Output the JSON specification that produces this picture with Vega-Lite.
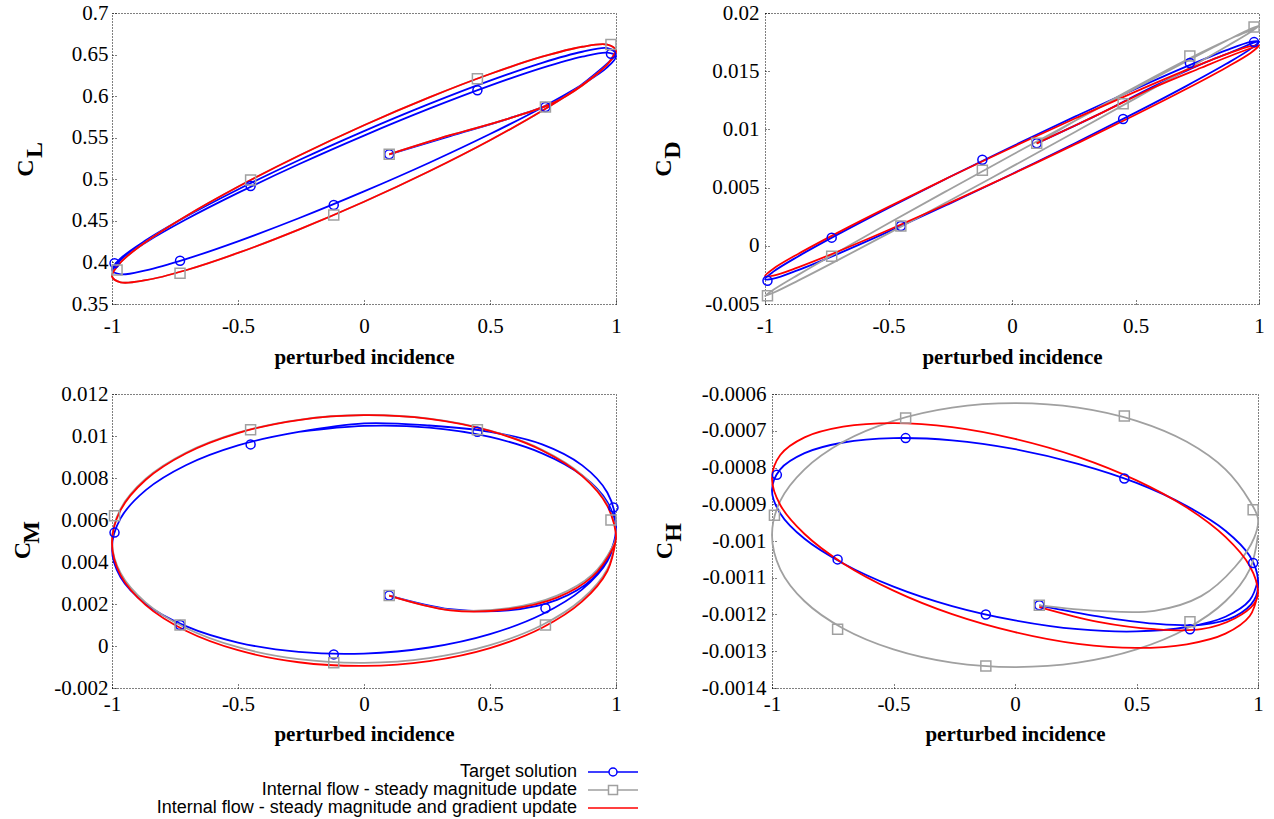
{
  "$schema": "https://vega.github.io/schema/vega-lite/v6.json",
  "padding": {"left": 10, "top": 1, "right": 0, "bottom": 0},
  "config": {
    "font": "Liberation Serif",
    "view": {"stroke": "#000000", "strokeDash": [1, 2], "strokeWidth": 1},
    "style": {"guide-label": {"font": "Liberation Serif", "fontSize": 21, "fill": "#000000"}, "guide-title": {"font": "Liberation Serif", "fontWeight": "bold", "fill": "#000000"}},
    "axis": {
      "domain": false, "grid": false,
      "labelFont": "Liberation Serif", "labelFontSize": 21, "labelColor": "#000000",
      "labelFlush": false, "labelOverlap": false,
      "ticks": true, "tickColor": "#000000", "tickDash": [1, 2], "tickSize": -6, "tickWidth": 1,
      "titleFont": "Liberation Serif", "titleFontWeight": "bold", "titleColor": "#000000"
    }
  },
  "datasets": {
    "c": [
      {"p":"L","s":"T","i":0,"x":0.1,"y":0.53},{"p":"L","s":"T","i":1,"x":0.342,"y":0.552},{"p":"L","s":"T","i":2,"x":0.574,"y":0.573},{"p":"L","s":"T","i":3,"x":0.766,"y":0.594},{"p":"L","s":"T","i":4,"x":0.906,"y":0.624},{"p":"L","s":"T","i":5,"x":0.985,"y":0.645},
      {"p":"L","s":"T","i":6,"x":1,"y":0.651},{"p":"L","s":"T","i":7,"x":0.966,"y":0.6578},{"p":"L","s":"T","i":8,"x":0.866,"y":0.6534},{"p":"L","s":"T","i":9,"x":0.707,"y":0.6401},{"p":"L","s":"T","i":10,"x":0.5,"y":0.6187},{"p":"L","s":"T","i":11,"x":0.259,"y":0.5907},{"p":"L","s":"T","i":12,"x":0,"y":0.558},{"p":"L","s":"T","i":13,"x":-0.259,"y":0.5229},{"p":"L","s":"T","i":14,"x":-0.5,"y":0.4877},{"p":"L","s":"T","i":15,"x":-0.707,"y":0.4549},{"p":"L","s":"T","i":16,"x":-0.866,"y":0.4266},{"p":"L","s":"T","i":17,"x":-0.966,"y":0.4048},{"p":"L","s":"T","i":18,"x":-1,"y":0.391},
      {"p":"L","s":"T","i":19,"x":-0.966,"y":0.3857},{"p":"L","s":"T","i":20,"x":-0.866,"y":0.3905},{"p":"L","s":"T","i":21,"x":-0.707,"y":0.404},{"p":"L","s":"T","i":22,"x":-0.5,"y":0.4254},{"p":"L","s":"T","i":23,"x":-0.259,"y":0.4531},{"p":"L","s":"T","i":24,"x":0,"y":0.4854},{"p":"L","s":"T","i":25,"x":0.259,"y":0.5199},{"p":"L","s":"T","i":26,"x":0.5,"y":0.5544},{"p":"L","s":"T","i":27,"x":0.707,"y":0.5864},{"p":"L","s":"T","i":28,"x":0.866,"y":0.6139},{"p":"L","s":"T","i":29,"x":0.966,"y":0.6349},{"p":"L","s":"T","i":30,"x":1,"y":0.648},
      {"p":"L","s":"T","i":31,"x":0.966,"y":0.6523},{"p":"L","s":"T","i":32,"x":0.866,"y":0.6475},{"p":"L","s":"T","i":33,"x":0.707,"y":0.634},{"p":"L","s":"T","i":34,"x":0.5,"y":0.6126},{"p":"L","s":"T","i":35,"x":0.259,"y":0.5849},{"p":"L","s":"T","i":36,"x":0,"y":0.5526},{"p":"L","s":"T","i":37,"x":-0.259,"y":0.5181},{"p":"L","s":"T","i":38,"x":-0.5,"y":0.4836},{"p":"L","s":"T","i":39,"x":-0.707,"y":0.4516},{"p":"L","s":"T","i":40,"x":-0.866,"y":0.4241},{"p":"L","s":"T","i":41,"x":-0.966,"y":0.4031},{"p":"L","s":"T","i":42,"x":-1,"y":0.39},

      {"p":"L","s":"G","i":0,"x":0.1,"y":0.53},{"p":"L","s":"G","i":1,"x":0.342,"y":0.553},{"p":"L","s":"G","i":2,"x":0.574,"y":0.573},{"p":"L","s":"G","i":3,"x":0.766,"y":0.594},{"p":"L","s":"G","i":4,"x":0.906,"y":0.622},{"p":"L","s":"G","i":5,"x":0.985,"y":0.645},
      {"p":"L","s":"G","i":6,"x":1,"y":0.6546},{"p":"L","s":"G","i":7,"x":0.966,"y":0.6619},{"p":"L","s":"G","i":8,"x":0.866,"y":0.6594},{"p":"L","s":"G","i":9,"x":0.707,"y":0.6474},{"p":"L","s":"G","i":10,"x":0.5,"y":0.6266},{"p":"L","s":"G","i":11,"x":0.259,"y":0.5985},{"p":"L","s":"G","i":12,"x":0,"y":0.565},{"p":"L","s":"G","i":13,"x":-0.259,"y":0.5283},{"p":"L","s":"G","i":14,"x":-0.5,"y":0.491},{"p":"L","s":"G","i":15,"x":-0.707,"y":0.4556},{"p":"L","s":"G","i":16,"x":-0.866,"y":0.4246},{"p":"L","s":"G","i":17,"x":-0.966,"y":0.3999},{"p":"L","s":"G","i":18,"x":-1,"y":0.3834},
      {"p":"L","s":"G","i":19,"x":-0.966,"y":0.3761},{"p":"L","s":"G","i":20,"x":-0.866,"y":0.3786},{"p":"L","s":"G","i":21,"x":-0.707,"y":0.3906},{"p":"L","s":"G","i":22,"x":-0.5,"y":0.4114},{"p":"L","s":"G","i":23,"x":-0.259,"y":0.4395},{"p":"L","s":"G","i":24,"x":0,"y":0.473},{"p":"L","s":"G","i":25,"x":0.259,"y":0.5097},{"p":"L","s":"G","i":26,"x":0.5,"y":0.547},{"p":"L","s":"G","i":27,"x":0.707,"y":0.5824},{"p":"L","s":"G","i":28,"x":0.866,"y":0.6134},{"p":"L","s":"G","i":29,"x":0.966,"y":0.6381},{"p":"L","s":"G","i":30,"x":1,"y":0.6546},

      {"p":"L","s":"R","i":0,"x":0.1,"y":0.53},{"p":"L","s":"R","i":1,"x":0.342,"y":0.553},{"p":"L","s":"R","i":2,"x":0.574,"y":0.573},{"p":"L","s":"R","i":3,"x":0.766,"y":0.594},{"p":"L","s":"R","i":4,"x":0.906,"y":0.622},{"p":"L","s":"R","i":5,"x":0.985,"y":0.645},
      {"p":"L","s":"R","i":6,"x":1,"y":0.6546},{"p":"L","s":"R","i":7,"x":0.966,"y":0.6619},{"p":"L","s":"R","i":8,"x":0.866,"y":0.6594},{"p":"L","s":"R","i":9,"x":0.707,"y":0.6474},{"p":"L","s":"R","i":10,"x":0.5,"y":0.6266},{"p":"L","s":"R","i":11,"x":0.259,"y":0.5985},{"p":"L","s":"R","i":12,"x":0,"y":0.565},{"p":"L","s":"R","i":13,"x":-0.259,"y":0.5283},{"p":"L","s":"R","i":14,"x":-0.5,"y":0.491},{"p":"L","s":"R","i":15,"x":-0.707,"y":0.4556},{"p":"L","s":"R","i":16,"x":-0.866,"y":0.4246},{"p":"L","s":"R","i":17,"x":-0.966,"y":0.3999},{"p":"L","s":"R","i":18,"x":-1,"y":0.3834},
      {"p":"L","s":"R","i":19,"x":-0.966,"y":0.3761},{"p":"L","s":"R","i":20,"x":-0.866,"y":0.3786},{"p":"L","s":"R","i":21,"x":-0.707,"y":0.3906},{"p":"L","s":"R","i":22,"x":-0.5,"y":0.4114},{"p":"L","s":"R","i":23,"x":-0.259,"y":0.4395},{"p":"L","s":"R","i":24,"x":0,"y":0.473},{"p":"L","s":"R","i":25,"x":0.259,"y":0.5097},{"p":"L","s":"R","i":26,"x":0.5,"y":0.547},{"p":"L","s":"R","i":27,"x":0.707,"y":0.5824},{"p":"L","s":"R","i":28,"x":0.866,"y":0.6134},{"p":"L","s":"R","i":29,"x":0.966,"y":0.6381},{"p":"L","s":"R","i":30,"x":1,"y":0.6546},

      {"p":"D","s":"T","i":0,"x":0.1,"y":0.0088},{"p":"D","s":"T","i":1,"x":0.342,"y":0.0112},{"p":"D","s":"T","i":2,"x":0.574,"y":0.0137},{"p":"D","s":"T","i":3,"x":0.766,"y":0.0156},{"p":"D","s":"T","i":4,"x":0.906,"y":0.0168},{"p":"D","s":"T","i":5,"x":0.985,"y":0.0175},
      {"p":"D","s":"T","i":6,"x":1,"y":0.01757},{"p":"D","s":"T","i":7,"x":0.966,"y":0.016917},{"p":"D","s":"T","i":8,"x":0.866,"y":0.015611},{"p":"D","s":"T","i":9,"x":0.707,"y":0.013742},{"p":"D","s":"T","i":10,"x":0.5,"y":0.011438},{"p":"D","s":"T","i":11,"x":0.259,"y":0.008857},{"p":"D","s":"T","i":12,"x":0,"y":0.00617},{"p":"D","s":"T","i":13,"x":-0.259,"y":0.003563},{"p":"D","s":"T","i":14,"x":-0.5,"y":0.001218},{"p":"D","s":"T","i":15,"x":-0.707,"y":-0.00071},{"p":"D","s":"T","i":16,"x":-0.866,"y":-0.002091},{"p":"D","s":"T","i":17,"x":-0.966,"y":-0.002829},{"p":"D","s":"T","i":18,"x":-1,"y":-0.00287},
      {"p":"D","s":"T","i":19,"x":-0.966,"y":-0.002217},{"p":"D","s":"T","i":20,"x":-0.866,"y":-0.000911},{"p":"D","s":"T","i":21,"x":-0.707,"y":0.000958},{"p":"D","s":"T","i":22,"x":-0.5,"y":0.003262},{"p":"D","s":"T","i":23,"x":-0.259,"y":0.005843},{"p":"D","s":"T","i":24,"x":0,"y":0.00853},{"p":"D","s":"T","i":25,"x":0.259,"y":0.011137},{"p":"D","s":"T","i":26,"x":0.5,"y":0.013482},{"p":"D","s":"T","i":27,"x":0.707,"y":0.01541},{"p":"D","s":"T","i":28,"x":0.866,"y":0.016791},{"p":"D","s":"T","i":29,"x":0.966,"y":0.017529},{"p":"D","s":"T","i":30,"x":1,"y":0.01757},

      {"p":"D","s":"G","i":0,"x":0.1,"y":0.0088},{"p":"D","s":"G","i":1,"x":0.342,"y":0.0118},{"p":"D","s":"G","i":2,"x":0.574,"y":0.0145},{"p":"D","s":"G","i":3,"x":0.766,"y":0.0166},{"p":"D","s":"G","i":4,"x":0.906,"y":0.018},{"p":"D","s":"G","i":5,"x":0.985,"y":0.0187},
      {"p":"D","s":"G","i":6,"x":1,"y":0.0189},{"p":"D","s":"G","i":7,"x":0.966,"y":0.018376},{"p":"D","s":"G","i":8,"x":0.866,"y":0.017096},{"p":"D","s":"G","i":9,"x":0.707,"y":0.015147},{"p":"D","s":"G","i":10,"x":0.5,"y":0.012667},{"p":"D","s":"G","i":11,"x":0.259,"y":0.009821},{"p":"D","s":"G","i":12,"x":0,"y":0.0068},{"p":"D","s":"G","i":13,"x":-0.259,"y":0.003813},{"p":"D","s":"G","i":14,"x":-0.5,"y":0.001067},{"p":"D","s":"G","i":15,"x":-0.707,"y":-0.001255},{"p":"D","s":"G","i":16,"x":-0.866,"y":-0.002996},{"p":"D","s":"G","i":17,"x":-0.966,"y":-0.004036},{"p":"D","s":"G","i":18,"x":-1,"y":-0.0043},
      {"p":"D","s":"G","i":19,"x":-0.966,"y":-0.003776},{"p":"D","s":"G","i":20,"x":-0.866,"y":-0.002496},{"p":"D","s":"G","i":21,"x":-0.707,"y":-0.000547},{"p":"D","s":"G","i":22,"x":-0.5,"y":0.001933},{"p":"D","s":"G","i":23,"x":-0.259,"y":0.004779},{"p":"D","s":"G","i":24,"x":0,"y":0.0078},{"p":"D","s":"G","i":25,"x":0.259,"y":0.010787},{"p":"D","s":"G","i":26,"x":0.5,"y":0.013533},{"p":"D","s":"G","i":27,"x":0.707,"y":0.015855},{"p":"D","s":"G","i":28,"x":0.866,"y":0.017596},{"p":"D","s":"G","i":29,"x":0.966,"y":0.018636},{"p":"D","s":"G","i":30,"x":1,"y":0.0189},

      {"p":"D","s":"R","i":0,"x":0.1,"y":0.0088},{"p":"D","s":"R","i":1,"x":0.342,"y":0.0112},{"p":"D","s":"R","i":2,"x":0.574,"y":0.0136},{"p":"D","s":"R","i":3,"x":0.766,"y":0.0153},{"p":"D","s":"R","i":4,"x":0.906,"y":0.0165},{"p":"D","s":"R","i":5,"x":0.985,"y":0.0171},
      {"p":"D","s":"R","i":6,"x":1,"y":0.0172},{"p":"D","s":"R","i":7,"x":0.966,"y":0.016565},{"p":"D","s":"R","i":8,"x":0.866,"y":0.015298},{"p":"D","s":"R","i":9,"x":0.707,"y":0.013486},{"p":"D","s":"R","i":10,"x":0.5,"y":0.011254},{"p":"D","s":"R","i":11,"x":0.259,"y":0.008753},{"p":"D","s":"R","i":12,"x":0,"y":0.00615},{"p":"D","s":"R","i":13,"x":-0.259,"y":0.003625},{"p":"D","s":"R","i":14,"x":-0.5,"y":0.001354},{"p":"D","s":"R","i":15,"x":-0.707,"y":-0.000512},{"p":"D","s":"R","i":16,"x":-0.866,"y":-0.001848},{"p":"D","s":"R","i":17,"x":-0.966,"y":-0.002561},{"p":"D","s":"R","i":18,"x":-1,"y":-0.0026},
      {"p":"D","s":"R","i":19,"x":-0.966,"y":-0.001965},{"p":"D","s":"R","i":20,"x":-0.866,"y":-0.000698},{"p":"D","s":"R","i":21,"x":-0.707,"y":0.001114},{"p":"D","s":"R","i":22,"x":-0.5,"y":0.003346},{"p":"D","s":"R","i":23,"x":-0.259,"y":0.005847},{"p":"D","s":"R","i":24,"x":0,"y":0.00845},{"p":"D","s":"R","i":25,"x":0.259,"y":0.010975},{"p":"D","s":"R","i":26,"x":0.5,"y":0.013246},{"p":"D","s":"R","i":27,"x":0.707,"y":0.015112},{"p":"D","s":"R","i":28,"x":0.866,"y":0.016448},{"p":"D","s":"R","i":29,"x":0.966,"y":0.017161},{"p":"D","s":"R","i":30,"x":1,"y":0.0172},

      {"p":"M","s":"T","i":0,"x":0.1,"y":0.0024},{"p":"M","s":"T","i":1,"x":0.342,"y":0.00175},{"p":"M","s":"T","i":2,"x":0.574,"y":0.0017},{"p":"M","s":"T","i":3,"x":0.766,"y":0.0022},{"p":"M","s":"T","i":4,"x":0.906,"y":0.0032},{"p":"M","s":"T","i":5,"x":0.985,"y":0.0047},
      {"p":"M","s":"T","i":6,"x":1,"y":0.0058},{"p":"M","s":"T","i":7,"x":0.966,"y":0.0073},{"p":"M","s":"T","i":8,"x":0.866,"y":0.0086},{"p":"M","s":"T","i":9,"x":0.707,"y":0.0096},{"p":"M","s":"T","i":10,"x":0.5,"y":0.0102},{"p":"M","s":"T","i":11,"x":0.259,"y":0.0105},{"p":"M","s":"T","i":12,"x":0,"y":0.0106},
      {"p":"M","s":"T","i":13,"x":-0.259,"y":0.010192},{"p":"M","s":"T","i":14,"x":-0.5,"y":0.009554},{"p":"M","s":"T","i":15,"x":-0.707,"y":0.008609},{"p":"M","s":"T","i":16,"x":-0.866,"y":0.007424},{"p":"M","s":"T","i":17,"x":-0.966,"y":0.006078},{"p":"M","s":"T","i":18,"x":-1,"y":0.00466},{"p":"M","s":"T","i":19,"x":-0.966,"y":0.00327},{"p":"M","s":"T","i":20,"x":-0.866,"y":0.002004},{"p":"M","s":"T","i":21,"x":-0.707,"y":0.000945},{"p":"M","s":"T","i":22,"x":-0.5,"y":0.000166},{"p":"M","s":"T","i":23,"x":-0.259,"y":-0.00028},{"p":"M","s":"T","i":24,"x":0,"y":-0.00036},{"p":"M","s":"T","i":25,"x":0.259,"y":-0.000072},{"p":"M","s":"T","i":26,"x":0.5,"y":0.000566},{"p":"M","s":"T","i":27,"x":0.707,"y":0.001511},{"p":"M","s":"T","i":28,"x":0.866,"y":0.002696},{"p":"M","s":"T","i":29,"x":0.966,"y":0.004042},{"p":"M","s":"T","i":30,"x":1,"y":0.00546},
      {"p":"M","s":"T","i":31,"x":0.966,"y":0.00685},{"p":"M","s":"T","i":32,"x":0.866,"y":0.008116},{"p":"M","s":"T","i":33,"x":0.707,"y":0.009175},{"p":"M","s":"T","i":34,"x":0.5,"y":0.009954},{"p":"M","s":"T","i":35,"x":0.259,"y":0.0104},{"p":"M","s":"T","i":36,"x":0,"y":0.01048},{"p":"M","s":"T","i":37,"x":-0.259,"y":0.010192},

      {"p":"M","s":"G","i":0,"x":0.1,"y":0.0024},{"p":"M","s":"G","i":1,"x":0.342,"y":0.00172},{"p":"M","s":"G","i":2,"x":0.574,"y":0.0018},{"p":"M","s":"G","i":3,"x":0.766,"y":0.0024},{"p":"M","s":"G","i":4,"x":0.906,"y":0.0034},{"p":"M","s":"G","i":5,"x":0.985,"y":0.0047},
      {"p":"M","s":"G","i":6,"x":1,"y":0.0052},{"p":"M","s":"G","i":7,"x":0.966,"y":0.006725},{"p":"M","s":"G","i":8,"x":0.866,"y":0.008137},{"p":"M","s":"G","i":9,"x":0.707,"y":0.009342},{"p":"M","s":"G","i":10,"x":0.5,"y":0.010259},{"p":"M","s":"G","i":11,"x":0.259,"y":0.010825},{"p":"M","s":"G","i":12,"x":0,"y":0.011},{"p":"M","s":"G","i":13,"x":-0.259,"y":0.010773},{"p":"M","s":"G","i":14,"x":-0.5,"y":0.010159},{"p":"M","s":"G","i":15,"x":-0.707,"y":0.0092},{"p":"M","s":"G","i":16,"x":-0.866,"y":0.007963},{"p":"M","s":"G","i":17,"x":-0.966,"y":0.006531},{"p":"M","s":"G","i":18,"x":-1,"y":0.005},
      {"p":"M","s":"G","i":19,"x":-0.966,"y":0.003475},{"p":"M","s":"G","i":20,"x":-0.866,"y":0.002063},{"p":"M","s":"G","i":21,"x":-0.707,"y":0.000858},{"p":"M","s":"G","i":22,"x":-0.5,"y":-0.000059},{"p":"M","s":"G","i":23,"x":-0.259,"y":-0.000625},{"p":"M","s":"G","i":24,"x":0,"y":-0.0008},{"p":"M","s":"G","i":25,"x":0.259,"y":-0.000573},{"p":"M","s":"G","i":26,"x":0.5,"y":0.000041},{"p":"M","s":"G","i":27,"x":0.707,"y":0.001},{"p":"M","s":"G","i":28,"x":0.866,"y":0.002237},{"p":"M","s":"G","i":29,"x":0.966,"y":0.003669},{"p":"M","s":"G","i":30,"x":1,"y":0.0052},

      {"p":"M","s":"R","i":0,"x":0.1,"y":0.0024},{"p":"M","s":"R","i":1,"x":0.342,"y":0.0017},{"p":"M","s":"R","i":2,"x":0.574,"y":0.00175},{"p":"M","s":"R","i":3,"x":0.766,"y":0.0023},{"p":"M","s":"R","i":4,"x":0.906,"y":0.0033},{"p":"M","s":"R","i":5,"x":0.985,"y":0.0046},
      {"p":"M","s":"R","i":6,"x":1,"y":0.00512},{"p":"M","s":"R","i":7,"x":0.966,"y":0.006663},{"p":"M","s":"R","i":8,"x":0.866,"y":0.008092},{"p":"M","s":"R","i":9,"x":0.707,"y":0.009312},{"p":"M","s":"R","i":10,"x":0.5,"y":0.01024},{"p":"M","s":"R","i":11,"x":0.259,"y":0.010813},{"p":"M","s":"R","i":12,"x":0,"y":0.01099},{"p":"M","s":"R","i":13,"x":-0.259,"y":0.010761},{"p":"M","s":"R","i":14,"x":-0.5,"y":0.01014},{"p":"M","s":"R","i":15,"x":-0.707,"y":0.00917},{"p":"M","s":"R","i":16,"x":-0.866,"y":0.007918},{"p":"M","s":"R","i":17,"x":-0.966,"y":0.006469},{"p":"M","s":"R","i":18,"x":-1,"y":0.00492},
      {"p":"M","s":"R","i":19,"x":-0.966,"y":0.003377},{"p":"M","s":"R","i":20,"x":-0.866,"y":0.001948},{"p":"M","s":"R","i":21,"x":-0.707,"y":0.000728},{"p":"M","s":"R","i":22,"x":-0.5,"y":-0.0002},{"p":"M","s":"R","i":23,"x":-0.259,"y":-0.000773},{"p":"M","s":"R","i":24,"x":0,"y":-0.00095},{"p":"M","s":"R","i":25,"x":0.259,"y":-0.000721},{"p":"M","s":"R","i":26,"x":0.5,"y":-0.0001},{"p":"M","s":"R","i":27,"x":0.707,"y":0.00087},{"p":"M","s":"R","i":28,"x":0.866,"y":0.002122},{"p":"M","s":"R","i":29,"x":0.966,"y":0.003571},{"p":"M","s":"R","i":30,"x":1,"y":0.00512},

      {"p":"H","s":"T","i":0,"x":0.1,"y":-0.001175},{"p":"H","s":"T","i":1,"x":0.342,"y":-0.001205},{"p":"H","s":"T","i":2,"x":0.574,"y":-0.001225},{"p":"H","s":"T","i":3,"x":0.766,"y":-0.001228},{"p":"H","s":"T","i":4,"x":0.906,"y":-0.001205},{"p":"H","s":"T","i":5,"x":0.985,"y":-0.00116},
      {"p":"H","s":"T","i":6,"x":1,"y":-0.001105},{"p":"H","s":"T","i":7,"x":0.966,"y":-0.001041},{"p":"H","s":"T","i":8,"x":0.866,"y":-0.000972},{"p":"H","s":"T","i":9,"x":0.707,"y":-0.000905},{"p":"H","s":"T","i":10,"x":0.5,"y":-0.000842},{"p":"H","s":"T","i":11,"x":0.259,"y":-0.00079},{"p":"H","s":"T","i":12,"x":0,"y":-0.00075},{"p":"H","s":"T","i":13,"x":-0.259,"y":-0.000726},{"p":"H","s":"T","i":14,"x":-0.5,"y":-0.00072},{"p":"H","s":"T","i":15,"x":-0.707,"y":-0.000732},{"p":"H","s":"T","i":16,"x":-0.866,"y":-0.000761},{"p":"H","s":"T","i":17,"x":-0.966,"y":-0.000805},{"p":"H","s":"T","i":18,"x":-1,"y":-0.000861},
      {"p":"H","s":"T","i":19,"x":-0.966,"y":-0.000925},{"p":"H","s":"T","i":20,"x":-0.866,"y":-0.000994},{"p":"H","s":"T","i":21,"x":-0.707,"y":-0.001061},{"p":"H","s":"T","i":22,"x":-0.5,"y":-0.001124},{"p":"H","s":"T","i":23,"x":-0.259,"y":-0.001177},{"p":"H","s":"T","i":24,"x":0,"y":-0.001216},{"p":"H","s":"T","i":25,"x":0.259,"y":-0.00124},{"p":"H","s":"T","i":26,"x":0.5,"y":-0.001246},{"p":"H","s":"T","i":27,"x":0.707,"y":-0.001234},{"p":"H","s":"T","i":28,"x":0.866,"y":-0.001206},{"p":"H","s":"T","i":29,"x":0.966,"y":-0.001161},{"p":"H","s":"T","i":30,"x":1,"y":-0.001105},

      {"p":"H","s":"G","i":0,"x":0.1,"y":-0.001175},{"p":"H","s":"G","i":1,"x":0.342,"y":-0.00119},{"p":"H","s":"G","i":2,"x":0.574,"y":-0.00119},{"p":"H","s":"G","i":3,"x":0.766,"y":-0.00115},{"p":"H","s":"G","i":4,"x":0.906,"y":-0.00107},{"p":"H","s":"G","i":5,"x":0.985,"y":-0.00099},
      {"p":"H","s":"G","i":6,"x":1,"y":-0.00094},{"p":"H","s":"G","i":7,"x":0.966,"y":-0.000891},{"p":"H","s":"G","i":8,"x":0.866,"y":-0.000805},{"p":"H","s":"G","i":9,"x":0.707,"y":-0.00073},{"p":"H","s":"G","i":10,"x":0.5,"y":-0.000673},{"p":"H","s":"G","i":11,"x":0.259,"y":-0.000637},{"p":"H","s":"G","i":12,"x":0,"y":-0.000625},{"p":"H","s":"G","i":13,"x":-0.259,"y":-0.000637},{"p":"H","s":"G","i":14,"x":-0.5,"y":-0.000673},{"p":"H","s":"G","i":15,"x":-0.707,"y":-0.00073},{"p":"H","s":"G","i":16,"x":-0.866,"y":-0.000805},{"p":"H","s":"G","i":17,"x":-0.966,"y":-0.000891},{"p":"H","s":"G","i":18,"x":-1,"y":-0.000984},
      {"p":"H","s":"G","i":19,"x":-0.966,"y":-0.001077},{"p":"H","s":"G","i":20,"x":-0.866,"y":-0.001164},{"p":"H","s":"G","i":21,"x":-0.707,"y":-0.001238},{"p":"H","s":"G","i":22,"x":-0.5,"y":-0.001295},{"p":"H","s":"G","i":23,"x":-0.259,"y":-0.001331},{"p":"H","s":"G","i":24,"x":0,"y":-0.001343},{"p":"H","s":"G","i":25,"x":0.259,"y":-0.001331},{"p":"H","s":"G","i":26,"x":0.5,"y":-0.001295},{"p":"H","s":"G","i":27,"x":0.707,"y":-0.001238},{"p":"H","s":"G","i":28,"x":0.866,"y":-0.001164},{"p":"H","s":"G","i":29,"x":0.966,"y":-0.001077},{"p":"H","s":"G","i":30,"x":1,"y":-0.000984},

      {"p":"H","s":"R","i":0,"x":0.1,"y":-0.00118},{"p":"H","s":"R","i":1,"x":0.342,"y":-0.00122},{"p":"H","s":"R","i":2,"x":0.574,"y":-0.00124},{"p":"H","s":"R","i":3,"x":0.766,"y":-0.00124},{"p":"H","s":"R","i":4,"x":0.906,"y":-0.00121},{"p":"H","s":"R","i":5,"x":0.985,"y":-0.00117},
      {"p":"H","s":"R","i":6,"x":1,"y":-0.001141},{"p":"H","s":"R","i":7,"x":0.966,"y":-0.001068},{"p":"H","s":"R","i":8,"x":0.866,"y":-0.000989},{"p":"H","s":"R","i":9,"x":0.707,"y":-0.000909},{"p":"H","s":"R","i":10,"x":0.5,"y":-0.000835},{"p":"H","s":"R","i":11,"x":0.259,"y":-0.000771},{"p":"H","s":"R","i":12,"x":0,"y":-0.000722},{"p":"H","s":"R","i":13,"x":-0.259,"y":-0.00069},{"p":"H","s":"R","i":14,"x":-0.5,"y":-0.000679},{"p":"H","s":"R","i":15,"x":-0.707,"y":-0.000689},{"p":"H","s":"R","i":16,"x":-0.866,"y":-0.000718},{"p":"H","s":"R","i":17,"x":-0.966,"y":-0.000766},{"p":"H","s":"R","i":18,"x":-1,"y":-0.000829},
      {"p":"H","s":"R","i":19,"x":-0.966,"y":-0.000902},{"p":"H","s":"R","i":20,"x":-0.866,"y":-0.000981},{"p":"H","s":"R","i":21,"x":-0.707,"y":-0.001061},{"p":"H","s":"R","i":22,"x":-0.5,"y":-0.001135},{"p":"H","s":"R","i":23,"x":-0.259,"y":-0.001199},{"p":"H","s":"R","i":24,"x":0,"y":-0.001248},{"p":"H","s":"R","i":25,"x":0.259,"y":-0.00128},{"p":"H","s":"R","i":26,"x":0.5,"y":-0.001291},{"p":"H","s":"R","i":27,"x":0.707,"y":-0.001281},{"p":"H","s":"R","i":28,"x":0.866,"y":-0.001252},{"p":"H","s":"R","i":29,"x":0.966,"y":-0.001204},{"p":"H","s":"R","i":30,"x":1,"y":-0.001141}
    ],
    "m": [
      {"p":"L","s":"T","x":0.1,"y":0.53},{"p":"L","s":"T","x":0.72,"y":0.587},{"p":"L","s":"T","x":0.98,"y":0.651},{"p":"L","s":"T","x":0.45,"y":0.607},{"p":"L","s":"T","x":-0.45,"y":0.492},{"p":"L","s":"T","x":-0.12,"y":0.469},{"p":"L","s":"T","x":-0.73,"y":0.402},{"p":"L","s":"T","x":-0.99,"y":0.399},
      {"p":"L","s":"G","x":0.1,"y":0.53},{"p":"L","s":"G","x":0.72,"y":0.587},{"p":"L","s":"G","x":0.98,"y":0.662},{"p":"L","s":"G","x":0.45,"y":0.621},{"p":"L","s":"G","x":-0.45,"y":0.499},{"p":"L","s":"G","x":-0.12,"y":0.457},{"p":"L","s":"G","x":-0.73,"y":0.387},{"p":"L","s":"G","x":-0.98,"y":0.391},
      {"p":"D","s":"T","x":0.1,"y":0.0088},{"p":"D","s":"T","x":0.72,"y":0.0157},{"p":"D","s":"T","x":0.98,"y":0.0175},{"p":"D","s":"T","x":0.45,"y":0.0109},{"p":"D","s":"T","x":-0.45,"y":0.0017},{"p":"D","s":"T","x":-0.12,"y":0.0074},{"p":"D","s":"T","x":-0.73,"y":0.0007},{"p":"D","s":"T","x":-0.99,"y":-0.003},
      {"p":"D","s":"G","x":0.1,"y":0.0088},{"p":"D","s":"G","x":0.72,"y":0.0163},{"p":"D","s":"G","x":0.98,"y":0.0188},{"p":"D","s":"G","x":0.45,"y":0.0122},{"p":"D","s":"G","x":-0.45,"y":0.0017},{"p":"D","s":"G","x":-0.12,"y":0.0065},{"p":"D","s":"G","x":-0.73,"y":-0.0009},{"p":"D","s":"G","x":-0.99,"y":-0.0043},
      {"p":"M","s":"T","x":0.1,"y":0.0024},{"p":"M","s":"T","x":0.72,"y":0.0018},{"p":"M","s":"T","x":0.99,"y":0.0066},{"p":"M","s":"T","x":0.45,"y":0.0102},{"p":"M","s":"T","x":-0.45,"y":0.0096},{"p":"M","s":"T","x":-0.12,"y":-0.0004},{"p":"M","s":"T","x":-0.73,"y":0.001},{"p":"M","s":"T","x":-0.99,"y":0.0054},
      {"p":"M","s":"G","x":0.1,"y":0.0024},{"p":"M","s":"G","x":0.72,"y":0.001},{"p":"M","s":"G","x":0.98,"y":0.006},{"p":"M","s":"G","x":0.45,"y":0.0103},{"p":"M","s":"G","x":-0.45,"y":0.0103},{"p":"M","s":"G","x":-0.12,"y":-0.0008},{"p":"M","s":"G","x":-0.73,"y":0.001},{"p":"M","s":"G","x":-0.99,"y":0.0062},
      {"p":"H","s":"T","x":0.1,"y":-0.001175},{"p":"H","s":"T","x":0.72,"y":-0.00124},{"p":"H","s":"T","x":0.98,"y":-0.00106},{"p":"H","s":"T","x":0.45,"y":-0.00083},{"p":"H","s":"T","x":-0.45,"y":-0.00072},{"p":"H","s":"T","x":-0.12,"y":-0.0012},{"p":"H","s":"T","x":-0.73,"y":-0.00105},{"p":"H","s":"T","x":-0.98,"y":-0.00082},
      {"p":"H","s":"G","x":0.1,"y":-0.001175},{"p":"H","s":"G","x":0.72,"y":-0.00122},{"p":"H","s":"G","x":0.98,"y":-0.000915},{"p":"H","s":"G","x":0.45,"y":-0.00066},{"p":"H","s":"G","x":-0.45,"y":-0.000665},{"p":"H","s":"G","x":-0.12,"y":-0.00134},{"p":"H","s":"G","x":-0.73,"y":-0.00124},{"p":"H","s":"G","x":-0.99,"y":-0.00093}
    ]
  },
  "columns": 2,
  "align": "none",
  "spacing": {"row": 14, "column": 29},
  "resolve": {"scale": {"color": "shared"}, "legend": {"color": "shared"}},
  "concat": [
    {
      "width": 504, "height": 291,
      "encoding": {
        "x": {"field": "x", "type": "quantitative", "scale": {"domain": [-1, 1], "nice": false, "zero": false}, "axis": {"values": [-1, -0.5, 0, 0.5, 1], "title": "perturbed incidence", "labelFont": "Liberation Serif", "labelFontSize": 21, "labelPadding": 17, "labelExpr": "replace(format(datum.value, '~g'), '\u2212', '-')", "titleFont": "Liberation Serif", "titleFontSize": 21, "titleFontWeight": "bold", "titlePadding": 10}},
        "y": {"field": "y", "type": "quantitative", "scale": {"domain": [0.35, 0.7], "nice": false, "zero": false}, "axis": {"values": [0.35, 0.4, 0.45, 0.5, 0.55, 0.6, 0.65, 0.7], "title": ["C\u2800", "\u2800L"], "labelFont": "Liberation Serif", "labelFontSize": 21, "labelPadding": 10, "labelExpr": "replace(format(datum.value, '~g'), '\u2212', '-')", "titleFont": "Liberation Serif", "titleFontSize": 24, "titleFontWeight": "bold", "titleLineHeight": 9, "titlePadding": 25, "titleAngle": 270}}
      },
      "layer": [
        {"data": {"name": "c"}, "transform": [{"filter": "datum.p == 'L'"}],
         "mark": {"type": "line", "interpolate": "catmull-rom", "strokeWidth": 1.8},
         "encoding": {
           "order": {"field": "i", "type": "quantitative"},
           "color": {"field": "s", "type": "nominal", "scale": {"domain": ["T", "G", "R"], "range": ["#0000ff", "#a0a0a0", "#ff0000"]},
             "legend": {"title": null, "orient": "none", "legendX": 492, "legendY": 750, "direction": "vertical",
               "labelExpr": "datum.value == 'T' ? 'Target solution' : datum.value == 'G' ? 'Internal flow - steady magnitude update' : 'Internal flow - steady magnitude and gradient update'",
               "labelFont": "Liberation Sans", "labelFontSize": 18, "labelColor": "#000000", "labelAlign": "right", "labelOffset": -45, "labelLimit": 800,
               "symbolSize": 156.25, "symbolStrokeWidth": 1.5, "rowPadding": 0, "symbolType": "stroke",
               "encode": {"symbols": {"update": {"shape": {"signal": "datum.value == 'T' ? 'M-4,0H-0.64M0.64,0H4M0.64,0A0.64,0.64,0,1,1,-0.64,0A0.64,0.64,0,1,1,0.64,0' : datum.value == 'G' ? 'M-4,0H-0.72M0.72,0H4M-0.72,-0.72H0.72V0.72H-0.72Z' : 'M-4,0H4'"}, "fill": {"value": "transparent"}}}}}}
         }},
        {"data": {"name": "m"}, "transform": [{"filter": "datum.p == 'L' && datum.s == 'T'"}],
         "mark": {"type": "point", "shape": "circle", "filled": false, "stroke": "#0000ff", "strokeWidth": 1.5, "size": 81, "opacity": 1}},
        {"data": {"name": "m"}, "transform": [{"filter": "datum.p == 'L' && datum.s == 'G'"}],
         "mark": {"type": "point", "shape": "square", "filled": false, "stroke": "#a0a0a0", "strokeWidth": 1.5, "size": 100, "opacity": 1}}
      ]
    },
    {
      "width": 494, "height": 291,
      "encoding": {
        "x": {"field": "x", "type": "quantitative", "scale": {"domain": [-1, 1], "nice": false, "zero": false}, "axis": {"values": [-1, -0.5, 0, 0.5, 1], "title": "perturbed incidence", "labelFont": "Liberation Serif", "labelFontSize": 21, "labelPadding": 17, "labelExpr": "replace(format(datum.value, '~g'), '\u2212', '-')", "titleFont": "Liberation Serif", "titleFontSize": 21, "titleFontWeight": "bold", "titlePadding": 10}},
        "y": {"field": "y", "type": "quantitative", "scale": {"domain": [-0.005, 0.02], "nice": false, "zero": false}, "axis": {"values": [-0.005, 0, 0.005, 0.01, 0.015, 0.02], "title": ["C\u2800", "\u2800D"], "labelFont": "Liberation Serif", "labelFontSize": 21, "labelPadding": 12, "labelExpr": "replace(format(datum.value, '~g'), '\u2212', '-')", "titleFont": "Liberation Serif", "titleFontSize": 24, "titleFontWeight": "bold", "titleLineHeight": 9, "titlePadding": 20, "titleAngle": 270}}
      },
      "layer": [
        {"data": {"name": "c"}, "transform": [{"filter": "datum.p == 'D'"}],
         "mark": {"type": "line", "interpolate": "catmull-rom", "strokeWidth": 1.8},
         "encoding": {
           "order": {"field": "i", "type": "quantitative"},
           "color": {"field": "s", "type": "nominal", "scale": {"domain": ["T", "G", "R"], "range": ["#0000ff", "#a0a0a0", "#ff0000"]},
             "legend": {"title": null, "orient": "none", "legendX": 492, "legendY": 750, "direction": "vertical",
               "labelExpr": "datum.value == 'T' ? 'Target solution' : datum.value == 'G' ? 'Internal flow - steady magnitude update' : 'Internal flow - steady magnitude and gradient update'",
               "labelFont": "Liberation Sans", "labelFontSize": 18, "labelColor": "#000000", "labelAlign": "right", "labelOffset": -45, "labelLimit": 800,
               "symbolSize": 156.25, "symbolStrokeWidth": 1.5, "rowPadding": 0, "symbolType": "stroke",
               "encode": {"symbols": {"update": {"shape": {"signal": "datum.value == 'T' ? 'M-4,0H-0.64M0.64,0H4M0.64,0A0.64,0.64,0,1,1,-0.64,0A0.64,0.64,0,1,1,0.64,0' : datum.value == 'G' ? 'M-4,0H-0.72M0.72,0H4M-0.72,-0.72H0.72V0.72H-0.72Z' : 'M-4,0H4'"}, "fill": {"value": "transparent"}}}}}}
         }},
        {"data": {"name": "m"}, "transform": [{"filter": "datum.p == 'D' && datum.s == 'T'"}],
         "mark": {"type": "point", "shape": "circle", "filled": false, "stroke": "#0000ff", "strokeWidth": 1.5, "size": 81, "opacity": 1}},
        {"data": {"name": "m"}, "transform": [{"filter": "datum.p == 'D' && datum.s == 'G'"}],
         "mark": {"type": "point", "shape": "square", "filled": false, "stroke": "#a0a0a0", "strokeWidth": 1.5, "size": 100, "opacity": 1}}
      ]
    },
    {
      "width": 504, "height": 294,
      "encoding": {
        "x": {"field": "x", "type": "quantitative", "scale": {"domain": [-1, 1], "nice": false, "zero": false}, "axis": {"values": [-1, -0.5, 0, 0.5, 1], "title": "perturbed incidence", "labelFont": "Liberation Serif", "labelFontSize": 21, "labelPadding": 11, "labelExpr": "replace(format(datum.value, '~g'), '\u2212', '-')", "titleFont": "Liberation Serif", "titleFontSize": 21, "titleFontWeight": "bold", "titlePadding": 9}},
        "y": {"field": "y", "type": "quantitative", "scale": {"domain": [-0.002, 0.012], "nice": false, "zero": false}, "axis": {"values": [-0.002, 0, 0.002, 0.004, 0.006, 0.008, 0.01, 0.012], "title": ["C\u2800", "\u2800M"], "labelFont": "Liberation Serif", "labelFontSize": 21, "labelPadding": 10, "labelExpr": "replace(format(datum.value, '~g'), '\u2212', '-')", "titleFont": "Liberation Serif", "titleFontSize": 24, "titleFontWeight": "bold", "titleLineHeight": 9, "titlePadding": 10, "titleAngle": 270}}
      },
      "layer": [
        {"data": {"name": "c"}, "transform": [{"filter": "datum.p == 'M'"}],
         "mark": {"type": "line", "interpolate": "catmull-rom", "strokeWidth": 1.8},
         "encoding": {
           "order": {"field": "i", "type": "quantitative"},
           "color": {"field": "s", "type": "nominal", "scale": {"domain": ["T", "G", "R"], "range": ["#0000ff", "#a0a0a0", "#ff0000"]},
             "legend": {"title": null, "orient": "none", "legendX": 492, "legendY": 750, "direction": "vertical",
               "labelExpr": "datum.value == 'T' ? 'Target solution' : datum.value == 'G' ? 'Internal flow - steady magnitude update' : 'Internal flow - steady magnitude and gradient update'",
               "labelFont": "Liberation Sans", "labelFontSize": 18, "labelColor": "#000000", "labelAlign": "right", "labelOffset": -45, "labelLimit": 800,
               "symbolSize": 156.25, "symbolStrokeWidth": 1.5, "rowPadding": 0, "symbolType": "stroke",
               "encode": {"symbols": {"update": {"shape": {"signal": "datum.value == 'T' ? 'M-4,0H-0.64M0.64,0H4M0.64,0A0.64,0.64,0,1,1,-0.64,0A0.64,0.64,0,1,1,0.64,0' : datum.value == 'G' ? 'M-4,0H-0.72M0.72,0H4M-0.72,-0.72H0.72V0.72H-0.72Z' : 'M-4,0H4'"}, "fill": {"value": "transparent"}}}}}}
         }},
        {"data": {"name": "m"}, "transform": [{"filter": "datum.p == 'M' && datum.s == 'T'"}],
         "mark": {"type": "point", "shape": "circle", "filled": false, "stroke": "#0000ff", "strokeWidth": 1.5, "size": 81, "opacity": 1}},
        {"data": {"name": "m"}, "transform": [{"filter": "datum.p == 'M' && datum.s == 'G'"}],
         "mark": {"type": "point", "shape": "square", "filled": false, "stroke": "#a0a0a0", "strokeWidth": 1.5, "size": 100, "opacity": 1}}
      ]
    },
    {
      "width": 486, "height": 294,
      "encoding": {
        "x": {"field": "x", "type": "quantitative", "scale": {"domain": [-1, 1], "nice": false, "zero": false}, "axis": {"values": [-1, -0.5, 0, 0.5, 1], "title": "perturbed incidence", "labelFont": "Liberation Serif", "labelFontSize": 21, "labelPadding": 11, "labelExpr": "replace(format(datum.value, '~g'), '\u2212', '-')", "titleFont": "Liberation Serif", "titleFontSize": 21, "titleFontWeight": "bold", "titlePadding": 9}},
        "y": {"field": "y", "type": "quantitative", "scale": {"domain": [-0.0014, -0.0006], "nice": false, "zero": false}, "axis": {"values": [-0.0014, -0.0013, -0.0012, -0.0011, -0.001, -0.0009, -0.0008, -0.0007, -0.0006], "title": ["C\u2800", "\u2800H"], "labelFont": "Liberation Serif", "labelFontSize": 21, "labelPadding": 12, "labelExpr": "replace(format(datum.value, '~g'), '\u2212', '-')", "titleFont": "Liberation Serif", "titleFontSize": 24, "titleFontWeight": "bold", "titleLineHeight": 9, "titlePadding": 16, "titleAngle": 270}}
      },
      "layer": [
        {"data": {"name": "c"}, "transform": [{"filter": "datum.p == 'H'"}],
         "mark": {"type": "line", "interpolate": "catmull-rom", "strokeWidth": 1.8},
         "encoding": {
           "order": {"field": "i", "type": "quantitative"},
           "color": {"field": "s", "type": "nominal", "scale": {"domain": ["T", "G", "R"], "range": ["#0000ff", "#a0a0a0", "#ff0000"]},
             "legend": {"title": null, "orient": "none", "legendX": 492, "legendY": 750, "direction": "vertical",
               "labelExpr": "datum.value == 'T' ? 'Target solution' : datum.value == 'G' ? 'Internal flow - steady magnitude update' : 'Internal flow - steady magnitude and gradient update'",
               "labelFont": "Liberation Sans", "labelFontSize": 18, "labelColor": "#000000", "labelAlign": "right", "labelOffset": -45, "labelLimit": 800,
               "symbolSize": 156.25, "symbolStrokeWidth": 1.5, "rowPadding": 0, "symbolType": "stroke",
               "encode": {"symbols": {"update": {"shape": {"signal": "datum.value == 'T' ? 'M-4,0H-0.64M0.64,0H4M0.64,0A0.64,0.64,0,1,1,-0.64,0A0.64,0.64,0,1,1,0.64,0' : datum.value == 'G' ? 'M-4,0H-0.72M0.72,0H4M-0.72,-0.72H0.72V0.72H-0.72Z' : 'M-4,0H4'"}, "fill": {"value": "transparent"}}}}}}
         }},
        {"data": {"name": "m"}, "transform": [{"filter": "datum.p == 'H' && datum.s == 'T'"}],
         "mark": {"type": "point", "shape": "circle", "filled": false, "stroke": "#0000ff", "strokeWidth": 1.5, "size": 81, "opacity": 1}},
        {"data": {"name": "m"}, "transform": [{"filter": "datum.p == 'H' && datum.s == 'G'"}],
         "mark": {"type": "point", "shape": "square", "filled": false, "stroke": "#a0a0a0", "strokeWidth": 1.5, "size": 100, "opacity": 1}}
      ]
    }
  ]
}
